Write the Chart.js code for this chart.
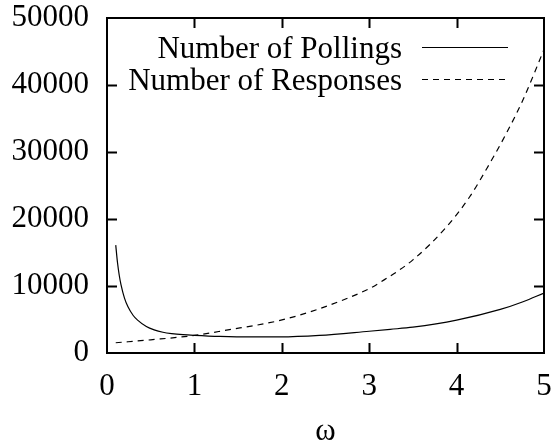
<!DOCTYPE html>
<html>
<head>
<meta charset="utf-8">
<script src="https://cdn.jsdelivr.net/npm/chart.js@4.4.1/dist/chart.umd.min.js"></script>
<style>
  html, body { margin: 0; padding: 0; background: #fff; }
  #wrap { width: 556px; height: 447px; }
</style>
</head>
<body>
<div id="wrap"><canvas id="omega-chart"></canvas></div>
<script>
// Polling / response counts against omega
const pollOmega = [0.1, 0.12, 0.14, 0.16, 0.2, 0.24, 0.3, 0.35, 0.45, 0.54, 0.64, 0.74, 0.87, 1.0, 1.29, 1.65, 1.98, 2.43, 3.0, 3.24, 3.5, 4.0, 4.5, 4.76, 5.0];
const pollCount = [16100, 13500, 11600, 10200, 8200, 6900, 5600, 4900, 3950, 3450, 3100, 2900, 2740, 2640, 2480, 2400, 2400, 2620, 3250, 3530, 3850, 4900, 6500, 7650, 8950];

const respOmega = [0.1, 0.5, 1.0, 1.35, 1.98, 2.43, 3.0, 3.12, 3.5, 3.885, 4.15, 4.38, 4.57, 4.76, 5.0];
const respCount = [1530, 1970, 2620, 3370, 4870, 6610, 9600, 10500, 13900, 18830, 23320, 28320, 32800, 37800, 45300];

const seriesNames = ['Number of Pollings', 'Number of Responses'];
const xTicks = [0, 1, 2, 3, 4, 5];
const yTicks = [0, 10000, 20000, 30000, 40000, 50000];

const FONT = 'Liberation Serif, Times New Roman, serif';
const FONT_SIZE = 31;

const toPoints = (xs, ys) => xs.map((x, i) => ({ x: x, y: ys[i] }));

// gnuplot-like frame with inward ticks on all four sides
const framePlugin = {
  id: 'frame',
  afterDatasetsDraw(chart) {
    const { ctx, chartArea: a, scales } = chart;
    const tick = 10;
    ctx.save();
    ctx.strokeStyle = '#000';
    ctx.lineWidth = 2;
    ctx.strokeRect(a.left, a.top, a.right - a.left, a.bottom - a.top);
    ctx.beginPath();
    xTicks.slice(1, -1).forEach(v => {
      const px = Math.round(scales.x.getPixelForValue(v)) + 0.5;
      ctx.moveTo(px, a.bottom); ctx.lineTo(px, a.bottom - tick);
      ctx.moveTo(px, a.top); ctx.lineTo(px, a.top + tick);
    });
    yTicks.slice(1, -1).forEach(v => {
      const py = Math.round(scales.y.getPixelForValue(v)) + 0.5;
      ctx.moveTo(a.left, py); ctx.lineTo(a.left + tick, py);
      ctx.moveTo(a.right, py); ctx.lineTo(a.right - tick, py);
    });
    ctx.stroke();
    ctx.restore();
  }
};

// key in the top right: right-aligned text followed by a line sample
const keyPlugin = {
  id: 'key',
  afterDatasetsDraw(chart) {
    const { ctx } = chart;
    const textRight = 402, lineL = 422, lineR = 508;
    ctx.save();
    ctx.font = FONT_SIZE + 'px ' + FONT;
    ctx.textAlign = 'right';
    ctx.textBaseline = 'alphabetic';
    chart.data.datasets.forEach((ds, i) => {
      const y = 47.5 + 32 * i;
      ctx.fillStyle = '#000';
      ctx.fillText(ds.label, textRight, y + 10);
      ctx.beginPath();
      ctx.setLineDash(ds.borderDash || []);
      ctx.strokeStyle = ds.borderColor;
      ctx.lineWidth = ds.borderWidth;
      ctx.moveTo(lineL, y);
      ctx.lineTo(lineR, y);
      ctx.stroke();
    });
    ctx.restore();
  }
};

const chartConfig = {
  type: 'line',
  data: {
    datasets: [{
      label: seriesNames[0],
      data: toPoints(pollOmega, pollCount),
      borderColor: '#000',
      borderWidth: 1.2,
      borderDash: [],
      pointRadius: 0,
      fill: false,
      cubicInterpolationMode: 'monotone'
    }, {
      label: seriesNames[1],
      data: toPoints(respOmega, respCount),
      borderColor: '#000',
      borderWidth: 1.2,
      borderDash: [6, 5],
      pointRadius: 0,
      fill: false,
      cubicInterpolationMode: 'monotone'
    }]
  },
  options: {
    responsive: true,
    maintainAspectRatio: false,
    animation: false,
    layout: { padding: { top: 18, right: 12, left: 0, bottom: 0 } },
    plugins: {
      legend: { display: false },
      tooltip: { enabled: false }
    },
    scales: {
      x: {
        type: 'linear',
        min: 0,
        max: 5,
        afterFit(scale) {
          scale.height = 94;
          scale.paddingLeft = 0;
          scale.paddingRight = 0;
        },
        afterBuildTicks(scale) { scale.ticks = xTicks.map(v => ({ value: v })); },
        grid: { display: false, drawTicks: false },
        border: { display: false },
        ticks: { color: '#000', font: { family: FONT, size: FONT_SIZE }, padding: 15, maxRotation: 0, callback: v => String(v) },
        title: { display: true, text: 'ω', color: '#000', font: { family: FONT, size: FONT_SIZE }, padding: { top: 0, bottom: -3 } }
      },
      y: {
        min: 0,
        max: 50000,
        afterFit(scale) {
          scale.width = 107;
          scale.paddingTop = 0;
          scale.paddingBottom = 0;
        },
        afterBuildTicks(scale) { scale.ticks = yTicks.map(v => ({ value: v })); },
        grid: { display: false, drawTicks: false },
        border: { display: false },
        ticks: { color: '#000', font: { family: FONT, size: FONT_SIZE }, padding: 18, callback: v => String(v) }
      }
    }
  },
  plugins: [framePlugin, keyPlugin]
};

const ctx = document.getElementById('omega-chart').getContext('2d');
const omegaChart = new Chart(ctx, chartConfig);
</script>
</body>
</html>
